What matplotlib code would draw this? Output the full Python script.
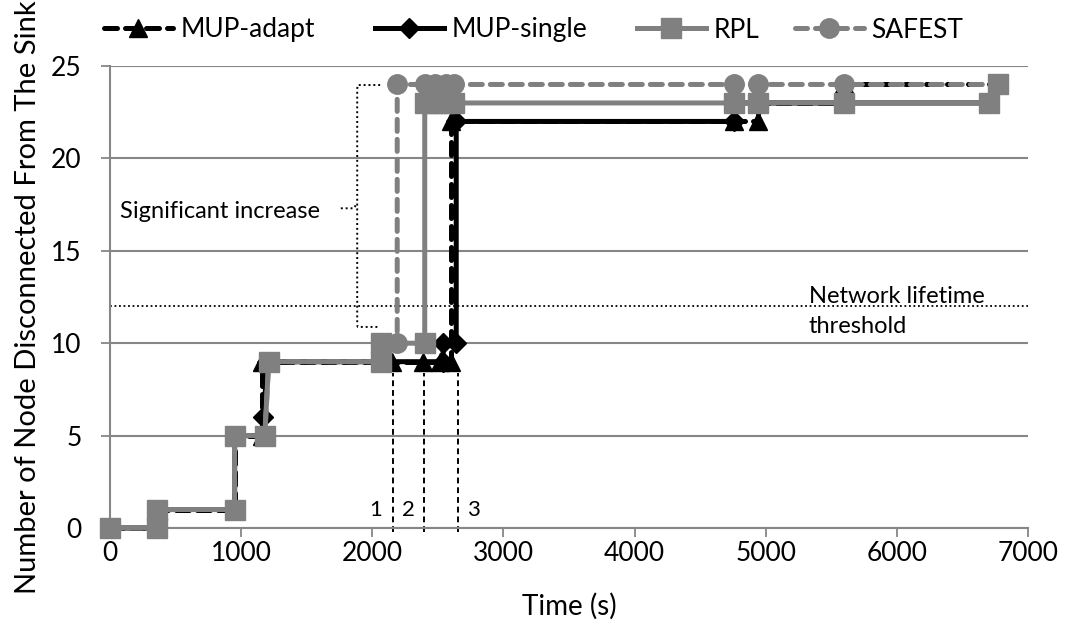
import matplotlib
matplotlib.use("Agg")
import matplotlib.pyplot as plt
from matplotlib.path import Path
import matplotlib.patches as mpatches
from matplotlib.lines import Line2D

plt.rcParams['font.family'] = ['Lato', 'DejaVu Sans']

# ---- data ----
mup_adapt_t = [0, 360, 360, 950, 950, 1160, 1160, 2150, 2390, 2520, 2600, 2600, 4760, 4940, 4940, 5600, 5600, 6770]
mup_adapt_v = [0, 0, 1, 1, 5, 5, 9, 9, 9, 9, 9, 22, 22, 22, 23, 23, 24, 24]

mup_single_t = [0, 360, 360, 950, 950, 1170, 1170, 1200, 2540, 2540, 2640, 2640, 4760, 4760, 6700, 6770]
mup_single_v = [0, 0, 1, 1, 5, 5, 6, 9, 9, 10, 10, 22, 22, 23, 23, 24]

rpl_t = [0, 360, 360, 950, 950, 1180, 1210, 2070, 2070, 2400, 2400, 2470, 2550, 2620, 4760, 4940, 5600, 6700, 6770]
rpl_v = [0, 0, 1, 1, 5, 5, 9, 9, 10, 10, 23, 23, 23, 23, 23, 23, 23, 23, 24]

safest_t = [0, 360, 360, 950, 950, 1180, 1210, 2070, 2070, 2190, 2190, 2400, 2480, 2560, 2620, 4760, 4940, 5600, 6770]
safest_v = [0, 0, 1, 1, 5, 5, 9, 9, 10, 10, 24, 24, 24, 24, 24, 24, 24, 24, 24]

threshold = 12
marker_times = [2160, 2397, 2650]
marker_labels = ['1', '2', '3']
x_ticks = [0, 1000, 2000, 3000, 4000, 5000, 6000, 7000]
y_ticks = [0, 5, 10, 15, 20, 25]

GRID = '#868686'
GRAY = '#808080'
W, H = 1068, 625

fig = plt.figure(figsize=(10.68, 6.25), dpi=100)
ax = fig.add_axes([110 / W, 1 - 528 / H, 918 / W, 462 / H])

lw = 3.6
styles = [
    dict(color='black', lw=lw, linestyle=(0, (2.6, 1.6)), dash_capstyle='round', marker='^', ms=13),
    dict(color='black', lw=lw, linestyle='-', marker='D', ms=10),
    dict(color=GRAY, lw=lw, linestyle='-', marker='s', ms=14),
    dict(color=GRAY, lw=lw, linestyle=(0, (2.4, 1.6)), dash_capstyle='round', marker='o', ms=14),
]
names = ['MUP-adapt', 'MUP-single', 'RPL', 'SAFEST']
series = [(mup_adapt_t, mup_adapt_v), (mup_single_t, mup_single_v),
          (rpl_t, rpl_v), (safest_t, safest_v)]
for i, ((t, v), st) in enumerate(zip(series, styles)):
    ax.plot(t, v, clip_on=False, zorder=3 + i, **st)

# threshold line
ax.axhline(threshold, color='black', lw=1.3, linestyle=(0, (1, 1.5)), zorder=2)
ax.text(5330, 12.55, 'Network lifetime', fontsize=17, ha='left', va='center')
ax.text(5330, 10.93, 'threshold', fontsize=17, ha='left', va='center')

# vertical marker lines
label_x = [2025, 2275, 2771]
for t, lab, lx in zip(marker_times, marker_labels, label_x):
    ax.plot([t, t], [-0.2, 8.4], color='black', lw=1.4, linestyle=(0, (3, 2)),
            zorder=2, clip_on=False)
    ax.text(lx, 0.45, lab, fontsize=16, ha='center', va='bottom')

# Significant increase annotation
ax.text(80, 17.1, 'Significant increase', fontsize=17, ha='left', va='center')
verts = [(2060, 23.97), (1890, 23.97), (1885, 23.97), (1885, 23.6),
         (1885, 11.25), (1885, 10.88), (1890, 10.88), (2060, 10.88)]
codes = [Path.MOVETO, Path.LINETO, Path.CURVE3, Path.CURVE3,
         Path.LINETO, Path.CURVE3, Path.CURVE3, Path.LINETO]
br = mpatches.PathPatch(Path(verts, codes), fill=False, lw=1.4, edgecolor='black',
                        linestyle=(0, (1, 1.5)), zorder=2)
ax.add_patch(br)
ax.plot([1760, 1860, 1885], [17.3, 17.3, 17.6], color='black', lw=1.4,
        linestyle=(0, (1, 1.5)), zorder=2)

ax.set_xlim(0, 7000)
ax.set_ylim(0, 25)
ax.set_xticks(x_ticks)
ax.set_yticks(y_ticks)
ax.tick_params(axis='both', labelsize=19, colors=GRID, labelcolor='black', length=6.5, width=1.3)
ax.tick_params(axis='x', pad=3)
ax.tick_params(axis='y', pad=14)
ax.grid(axis='y', color=GRID, lw=1.5)
ax.set_axisbelow(True)
for s in ['top', 'right']:
    ax.spines[s].set_visible(False)
for s in ['left', 'bottom']:
    ax.spines[s].set_color(GRID)
    ax.spines[s].set_linewidth(1.5)

ax.set_xlabel('Time (s)', fontsize=20, labelpad=19)
ax.set_ylabel('Number of Node Disconnected From The Sink', fontsize=21, labelpad=7)

# legend: one entry per legend box, placed like the reference
leg_left = [104, 375, 637, 795]
for name, st, xl in zip(names, styles, leg_left):
    h = Line2D([], [], **st)
    fig.legend(handles=[h], labels=[name], loc='center left',
               bbox_to_anchor=(xl / W, 1 - 30 / H), frameon=False,
               fontsize=19, handlelength=2.6, handletextpad=0.3,
               borderpad=0, borderaxespad=0)

fig.savefig('out.png', dpi=100)
